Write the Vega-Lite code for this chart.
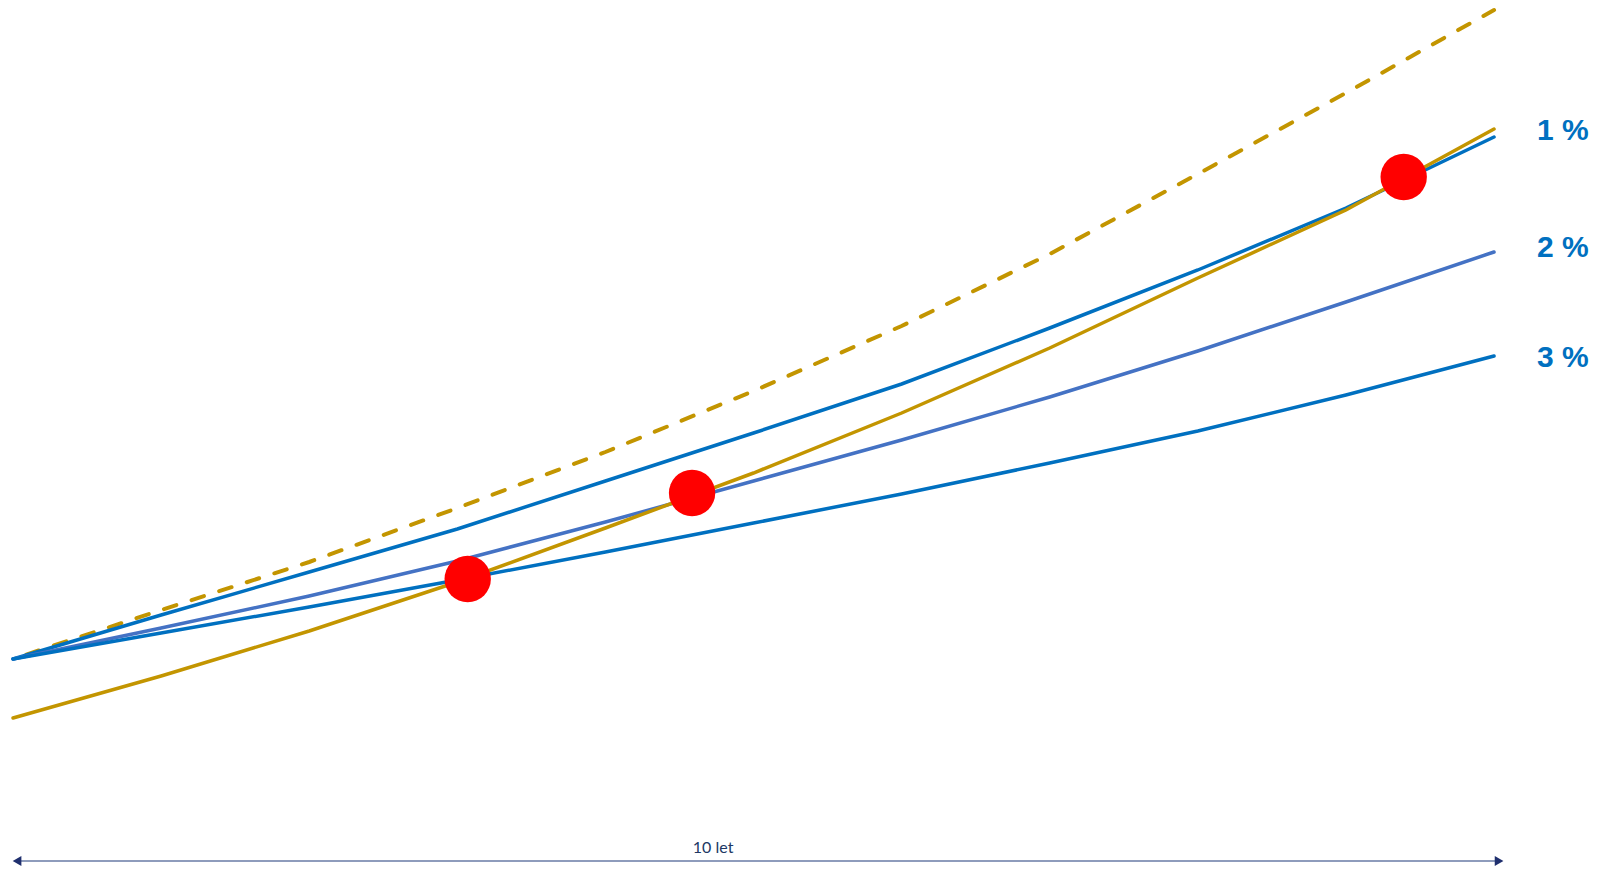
{
  "$schema": "https://vega.github.io/schema/vega-lite/v6.json",
  "width": 1602,
  "height": 870,
  "autosize": {"type": "fit", "contains": "padding"},
  "padding": 0,
  "background": "white",
  "config": {"view": {"stroke": null}},
  "datasets": {
    "lines": [
      {"series": "dashed", "year": 0, "value": 211},
      {"series": "dashed", "year": 1, "value": 260},
      {"series": "dashed", "year": 2, "value": 308},
      {"series": "dashed", "year": 3, "value": 362},
      {"series": "dashed", "year": 4, "value": 418},
      {"series": "dashed", "year": 5, "value": 479},
      {"series": "dashed", "year": 6, "value": 544},
      {"series": "dashed", "year": 7, "value": 616},
      {"series": "dashed", "year": 8, "value": 696},
      {"series": "dashed", "year": 9, "value": 777},
      {"series": "dashed", "year": 10, "value": 860},
      {"series": "gold", "year": 0, "value": 152},
      {"series": "gold", "year": 1, "value": 194},
      {"series": "gold", "year": 2, "value": 239},
      {"series": "gold", "year": 3, "value": 288},
      {"series": "gold", "year": 4, "value": 342},
      {"series": "gold", "year": 5, "value": 397},
      {"series": "gold", "year": 6, "value": 457},
      {"series": "gold", "year": 7, "value": 522},
      {"series": "gold", "year": 8, "value": 592},
      {"series": "gold", "year": 9, "value": 660},
      {"series": "gold", "year": 10, "value": 741},
      {"series": "1 %", "year": 0, "value": 211},
      {"series": "1 %", "year": 1, "value": 255},
      {"series": "1 %", "year": 2, "value": 298},
      {"series": "1 %", "year": 3, "value": 341},
      {"series": "1 %", "year": 4, "value": 389},
      {"series": "1 %", "year": 5, "value": 437},
      {"series": "1 %", "year": 6, "value": 486},
      {"series": "1 %", "year": 7, "value": 542},
      {"series": "1 %", "year": 8, "value": 600},
      {"series": "1 %", "year": 9, "value": 662},
      {"series": "1 %", "year": 10, "value": 733},
      {"series": "2 %", "year": 0, "value": 211},
      {"series": "2 %", "year": 1, "value": 242},
      {"series": "2 %", "year": 2, "value": 274},
      {"series": "2 %", "year": 3, "value": 309},
      {"series": "2 %", "year": 4, "value": 348},
      {"series": "2 %", "year": 5, "value": 389},
      {"series": "2 %", "year": 6, "value": 430},
      {"series": "2 %", "year": 7, "value": 473},
      {"series": "2 %", "year": 8, "value": 519},
      {"series": "2 %", "year": 9, "value": 568},
      {"series": "2 %", "year": 10, "value": 618},
      {"series": "3 %", "year": 0, "value": 211},
      {"series": "3 %", "year": 1, "value": 237},
      {"series": "3 %", "year": 2, "value": 263},
      {"series": "3 %", "year": 3, "value": 290},
      {"series": "3 %", "year": 4, "value": 318},
      {"series": "3 %", "year": 5, "value": 347},
      {"series": "3 %", "year": 6, "value": 376},
      {"series": "3 %", "year": 7, "value": 407},
      {"series": "3 %", "year": 8, "value": 439},
      {"series": "3 %", "year": 9, "value": 475},
      {"series": "3 %", "year": 10, "value": 514}
    ],
    "dots": [
      {"year": 3.07, "value": 291},
      {"year": 4.585, "value": 377},
      {"year": 9.39, "value": 693}
    ],
    "labels": [
      {"label": "1 %", "year": 10.29, "value": 730},
      {"label": "2 %", "year": 10.29, "value": 613},
      {"label": "3 %", "year": 10.29, "value": 503}
    ],
    "span": [
      {"start": 0.03, "end": 10.03, "value": 9, "text": "10 let", "mid": 4.727, "textValue": 17}
    ],
    "heads": [
      {"year": 0.027, "value": 9, "shape": "triangle-left"},
      {"year": 10.034, "value": 9, "shape": "triangle-right"}
    ]
  },
  "layer": [
    {
      "data": {"name": "lines"},
      "transform": [{"filter": "datum.series == 'dashed'"}],
      "mark": {"type": "line", "color": "#C39500", "strokeWidth": 4, "strokeDash": [13, 16], "strokeDashOffset": 15, "strokeCap": "round"},
      "encoding": {
        "x": {"field": "year", "type": "quantitative", "scale": {"domain": [-0.088, 10.729], "nice": false, "zero": false}, "axis": null},
        "y": {"field": "value", "type": "quantitative", "scale": {"domain": [0, 870], "nice": false}, "axis": null}
      }
    },
    {
      "data": {"name": "lines"},
      "transform": [{"filter": "datum.series == '3 %' || datum.series == '2 %' || datum.series == '1 %'"}],
      "mark": {"type": "line", "strokeWidth": 3.5, "strokeCap": "round"},
      "encoding": {
        "x": {"field": "year", "type": "quantitative"},
        "y": {"field": "value", "type": "quantitative"},
        "color": {"field": "series", "type": "nominal", "scale": {"domain": ["3 %", "2 %", "1 %"], "range": ["#0070C0", "#4472C4", "#0070C0"]}, "legend": null}
      }
    },
    {
      "data": {"name": "lines"},
      "transform": [{"filter": "datum.series == 'gold'"}],
      "mark": {"type": "line", "color": "#C39500", "strokeWidth": 3.5, "strokeCap": "round"},
      "encoding": {
        "x": {"field": "year", "type": "quantitative"},
        "y": {"field": "value", "type": "quantitative"}
      }
    },
    {
      "data": {"name": "dots"},
      "mark": {"type": "point", "shape": "circle", "filled": true, "color": "#FF0000", "opacity": 1, "size": 2150},
      "encoding": {
        "x": {"field": "year", "type": "quantitative"},
        "y": {"field": "value", "type": "quantitative"}
      }
    },
    {
      "data": {"name": "labels"},
      "mark": {"type": "text", "align": "left", "baseline": "alphabetic", "font": "Liberation Sans", "fontWeight": "bold", "fontSize": 30, "color": "#0070C0"},
      "encoding": {
        "x": {"field": "year", "type": "quantitative"},
        "y": {"field": "value", "type": "quantitative"},
        "text": {"field": "label"}
      }
    },
    {
      "data": {"name": "span"},
      "mark": {"type": "rule", "color": "#1F3A7A", "strokeWidth": 1.2},
      "encoding": {
        "x": {"field": "start", "type": "quantitative"},
        "x2": {"field": "end"},
        "y": {"field": "value", "type": "quantitative"}
      }
    },
    {
      "data": {"name": "heads"},
      "mark": {"type": "point", "filled": true, "color": "#1F2F6E", "opacity": 1, "size": 100},
      "encoding": {
        "x": {"field": "year", "type": "quantitative"},
        "y": {"field": "value", "type": "quantitative"},
        "shape": {"field": "shape", "type": "nominal", "scale": null}
      }
    },
    {
      "data": {"name": "span"},
      "mark": {"type": "text", "align": "center", "baseline": "alphabetic", "font": "Lato", "fontSize": 16, "color": "#203864"},
      "encoding": {
        "x": {"field": "mid", "type": "quantitative"},
        "y": {"field": "textValue", "type": "quantitative"},
        "text": {"field": "text"}
      }
    }
  ]
}
